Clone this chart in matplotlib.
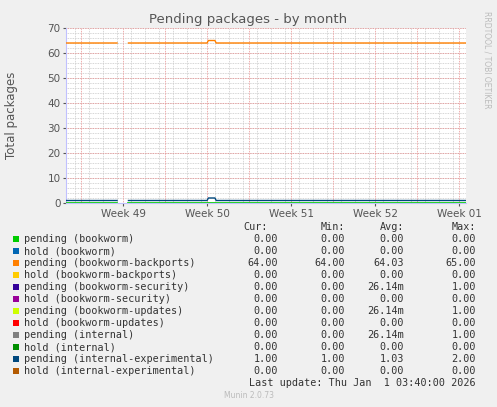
import matplotlib
matplotlib.use("Agg")
import matplotlib.pyplot as plt
import numpy as np

# time axis in days from left edge of the plot
week_ticks = [4.75, 11.75, 18.75, 25.75, 32.75]
week_labels = ["Week 49", "Week 50", "Week 51", "Week 52", "Week 01"]
x_end = 33.3

backports_t = [0, 4.25, np.nan, 5.2, 11.75, 11.85, 12.4, 12.5, 33.3]
backports_v = [64, 64, np.nan, 64, 64, 65, 65, 64, 64]
experimental_t = backports_t
experimental_v = [1, 1, np.nan, 1, 1, 2, 2, 1, 1]
zero_t = [0, 4.25, np.nan, 5.2, 33.3]
zero_v = [0, 0, np.nan, 0, 0]

names = ["pending (bookworm)", "hold (bookworm)", "pending (bookworm-backports)",
         "hold (bookworm-backports)", "pending (bookworm-security)", "hold (bookworm-security)",
         "pending (bookworm-updates)", "hold (bookworm-updates)", "pending (internal)",
         "hold (internal)", "pending (internal-experimental)", "hold (internal-experimental)"]
colors = ["#00CC00", "#0066B3", "#FF8000", "#FFCC00", "#330099", "#990099",
          "#CCFF00", "#FF0000", "#808080", "#008F00", "#00487D", "#B35A00"]
cur = ["0.00", "0.00", "64.00", "0.00", "0.00", "0.00", "0.00", "0.00", "0.00", "0.00", "1.00", "0.00"]
mins = ["0.00", "0.00", "64.00", "0.00", "0.00", "0.00", "0.00", "0.00", "0.00", "0.00", "1.00", "0.00"]
avgs = ["0.00", "0.00", "64.03", "0.00", "26.14m", "0.00", "26.14m", "0.00", "26.14m", "0.00", "1.03", "0.00"]
maxs = ["0.00", "0.00", "65.00", "0.00", "1.00", "0.00", "1.00", "0.00", "1.00", "0.00", "2.00", "0.00"]

fig = plt.figure(figsize=(4.97, 4.07), dpi=100, facecolor="#F0F0F0")
ax = fig.add_axes([66/497, 1-203/407, 400/497, 175/407], facecolor="white")
ax.set_xlim(0, x_end)
ax.set_ylim(0, 70)

for d in np.arange(0.75, x_end, 7/6):
    ax.axvline(d, color="#C8C8C8", lw=0.6, ls=(0, (1, 1)), zorder=0)
for y in range(0, 71, 2):
    ax.axhline(y, color="#C8C8C8", lw=0.6, ls=(0, (1, 1)), zorder=0)
for d in np.arange(1.25, x_end, 3.5):
    ax.axvline(d, color="#E89090", lw=0.6, ls=(0, (1, 1)), zorder=1)
for y in range(10, 71, 10):
    ax.axhline(y, color="#E89090", lw=0.6, ls=(0, (1, 1)), zorder=1)

ax.plot(zero_t, zero_v, color=colors[0], lw=1.2, zorder=3)
ax.plot(backports_t, backports_v, color=colors[2], lw=1, zorder=3)
ax.plot(experimental_t, experimental_v, color=colors[10], lw=1, zorder=3)

ax.set_xticks(week_ticks)
ax.set_xticklabels(week_labels)
ax.set_yticks(range(0, 71, 10))
ax.tick_params(labelsize=7.5, colors="#555555", length=2, pad=2)
for s in ["top", "right"]:
    ax.spines[s].set_visible(False)
ax.spines["left"].set_color("#C0C0FF")
ax.spines["bottom"].set_color("#C0C0FF")
fig.text(12/497, 1-115/407, "Total packages", rotation=90, ha="center", va="center", fontsize=8.5, color="#555555")

fig.text(0.5, 1-19/407, "Pending packages - by month", ha="center", va="center", fontsize=9.5, color="#555555")
fig.text(487/497, 1-60/407, "RRDTOOL / TOBI OETIKER", rotation=270, ha="center", va="center", fontsize=5.5, color="#BBBBBB")

mono = "DejaVu Sans Mono"
fs = 7.3
y0 = 227
for xx, h in zip([268, 345, 404, 476], ["Cur:", "Min:", "Avg:", "Max:"]):
    fig.text(xx/497, 1-y0/407, h, ha="right", va="center", fontsize=fs, family=mono, color="#333333")
for i, n in enumerate(names):
    yy = 1 - (y0 + 12 * (i + 1)) / 407
    fig.patches.append(plt.Rectangle((13/497, yy - 3/407), 6/497, 6/407, transform=fig.transFigure,
                                     facecolor=colors[i], edgecolor="none"))
    fig.text(24/497, yy, n, ha="left", va="center", fontsize=fs, family=mono, color="#333333")
    for xx, vals in zip([278, 345, 404, 476], [cur, mins, avgs, maxs]):
        fig.text(xx/497, yy, vals[i], ha="right", va="center", fontsize=fs, family=mono, color="#333333")
fig.text(476/497, 1-383/407, "Last update: Thu Jan  1 03:40:00 2026", ha="right", va="center",
         fontsize=fs, family=mono, color="#333333")
fig.text(0.5, 1-396/407, "Munin 2.0.73", ha="center", va="center", fontsize=5.5, color="#BBBBBB")

fig.savefig("out.png", dpi=100, facecolor=fig.get_facecolor())
